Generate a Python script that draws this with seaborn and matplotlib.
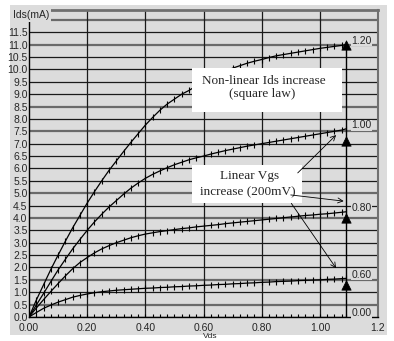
import numpy as np
import pandas as pd
import matplotlib
matplotlib.use("Agg")
import matplotlib.pyplot as plt
from matplotlib.patches import Rectangle
import seaborn as sns

# ---------------- data ----------------
vds = [0.000, 0.025, 0.050, 0.075, 0.100, 0.125, 0.150, 0.175, 0.200, 0.225,
       0.250, 0.275, 0.300, 0.325, 0.350, 0.375, 0.400, 0.425, 0.450, 0.475,
       0.500, 0.525, 0.550, 0.575, 0.600, 0.625, 0.650, 0.675, 0.700, 0.725,
       0.750, 0.775, 0.800, 0.825, 0.850, 0.875, 0.900, 0.925, 0.950, 0.975,
       1.000, 1.025, 1.050, 1.075, 1.090]

ids_vgs_120 = [0.00, 0.68, 1.30, 1.92, 2.50, 3.06, 3.60, 4.10, 4.60, 5.06,
               5.50, 5.92, 6.30, 6.68, 7.05, 7.40, 7.75, 8.06, 8.35, 8.60,
               8.80, 9.00, 9.15, 9.33, 9.50, 9.66, 9.80, 9.93, 10.05, 10.15,
               10.25, 10.33, 10.40, 10.48, 10.55, 10.60, 10.65, 10.70, 10.75, 10.80,
               10.85, 10.89, 10.93, 10.97, 11.00]
ids_vgs_100 = [0.00, 0.48, 0.95, 1.43, 1.90, 2.33, 2.75, 3.13, 3.50, 3.84,
               4.15, 4.44, 4.70, 4.96, 5.20, 5.41, 5.60, 5.76, 5.90, 6.03,
               6.15, 6.25, 6.35, 6.43, 6.50, 6.58, 6.65, 6.72, 6.78, 6.84,
               6.90, 6.95, 7.00, 7.05, 7.10, 7.15, 7.20, 7.25, 7.30, 7.35,
               7.40, 7.45, 7.50, 7.55, 7.60]
ids_vgs_080 = [0.00, 0.36, 0.70, 1.03, 1.35, 1.66, 1.95, 2.20, 2.40, 2.59,
               2.75, 2.88, 3.00, 3.10, 3.20, 3.28, 3.35, 3.40, 3.45, 3.49,
               3.53, 3.57, 3.60, 3.64, 3.67, 3.70, 3.73, 3.77, 3.80, 3.83,
               3.86, 3.89, 3.92, 3.95, 3.98, 4.01, 4.04, 4.07, 4.10, 4.12,
               4.15, 4.17, 4.20, 4.23, 4.25]
ids_vgs_060 = [0.00, 0.18, 0.35, 0.48, 0.60, 0.70, 0.80, 0.87, 0.93, 0.98,
               1.02, 1.05, 1.08, 1.10, 1.12, 1.14, 1.16, 1.17, 1.19, 1.20,
               1.22, 1.23, 1.25, 1.26, 1.28, 1.29, 1.31, 1.32, 1.34, 1.35,
               1.37, 1.38, 1.40, 1.41, 1.43, 1.44, 1.45, 1.47, 1.48, 1.49,
               1.50, 1.52, 1.53, 1.55, 1.56]
ids_vgs_000 = [0.00, 0.00, 0.00, 0.00, 0.00, 0.00, 0.00, 0.00, 0.00, 0.00,
               0.00, 0.00, 0.00, 0.00, 0.00, 0.00, 0.00, 0.00, 0.00, 0.00,
               0.00, 0.00, 0.00, 0.00, 0.00, 0.00, 0.00, 0.00, 0.00, 0.00,
               0.00, 0.00, 0.00, 0.00, 0.00, 0.00, 0.00, 0.00, 0.00, 0.00,
               0.00, 0.00, 0.00, 0.00, 0.00]

vgs_labels = ["0.00", "0.60", "0.80", "1.00", "1.20"]
series = [ids_vgs_000, ids_vgs_060, ids_vgs_080, ids_vgs_100, ids_vgs_120]

triangle_ids = [11.0, 7.1, 4.0, 1.3]

x_ticks = [0.0, 0.2, 0.4, 0.6, 0.8, 1.0, 1.2]
x_tick_labels = ["0.00", "0.20", "0.40", "0.60", "0.80", "1.00", "1.2"]
y_ticks = [0.0, 0.5, 1.0, 1.5, 2.0, 2.5, 3.0, 3.5, 4.0, 4.5, 5.0, 5.5, 6.0,
           6.5, 7.0, 7.5, 8.0, 8.5, 9.0, 9.5, 10.0, 10.5, 11.0, 11.5, 12.0]
# the 12.0 label is hidden behind the "Ids(mA)" title in the reference
y_tick_labels = ["%.1f" % v for v in y_ticks[:-1]] + [""]
thick_rows = [0.5, 1.5, 4.0, 5.0, 7.5, 8.5, 11.0, 12.0]

# ---------------- style ----------------
BG = "#dcdcdc"
sns.set_theme(style="white")
plt.rcParams["font.family"] = ["Liberation Sans", "DejaVu Sans"]

W, H = 394, 341
fig = plt.figure(figsize=(W / 100, H / 100), dpi=100, facecolor="white")
fig.patches.append(Rectangle((10 / W, 6 / H), 377 / W, 330 / H,
                             transform=fig.transFigure, facecolor=BG,
                             edgecolor="none", zorder=-10))
ax = fig.add_axes([29 / W, 24 / H, 349 / W, 307 / H])
ax.set_facecolor(BG)
ax.set_xlim(0, 1.2)
ax.set_ylim(0, 12.4)

# grid
for yv in y_ticks[1:]:
    if yv in thick_rows:
        ax.axhline(yv, color="#6a6a6a", lw=1.6, zorder=1)
    else:
        ax.axhline(yv, color="#1a1a1a", lw=0.9, zorder=1)
for xv in x_ticks[1:-1]:
    ax.axvline(xv, color="#1a1a1a", lw=0.9, zorder=1)

df = pd.concat([pd.DataFrame({"Vds": vds, "Ids": ys, "Vgs": lab})
                for lab, ys in zip(vgs_labels, series)], ignore_index=True)

sns.lineplot(data=df, x="Vds", y="Ids", hue="Vgs",
             palette={l: "black" for l in vgs_labels},
             estimator=None, sort=False, legend=False, ax=ax,
             lw=0.9, marker="|", markersize=4.5, markeredgewidth=0.8,
             markeredgecolor="black", zorder=3)

# vertical marker line and triangles
x_end = vds[-1]
ax.plot([x_end, x_end], [0, ids_vgs_120[-1]], color="black", lw=1.0, zorder=4)
sns.scatterplot(x=[x_end] * len(triangle_ids), y=triangle_ids, marker="^",
                color="black", edgecolor="black", s=45, ax=ax, zorder=5,
                legend=False)

# curve end labels
for lab, ys in zip(vgs_labels, series):
    ax.text(x_end + 0.018, ys[-1] + 0.15, lab, fontsize=7.5, ha="left",
            va="center", zorder=6,
            bbox=dict(facecolor=BG, edgecolor="none", pad=0.3))

# annotation boxes
serif = ["Liberation Serif", "DejaVu Serif"]
ax.add_patch(Rectangle((0.56, 8.28), 0.515, 1.78, facecolor="white",
                       edgecolor="none", zorder=6))
ax.text(0.808, 9.55, "Non-linear Ids increase", fontsize=9.5, family=serif,
        ha="center", va="center", zorder=7)
ax.text(0.803, 9.0, "(square law)", fontsize=9.5, family=serif,
        ha="center", va="center", zorder=7)

ax.add_patch(Rectangle((0.56, 4.6), 0.38, 1.55, facecolor="white",
                       edgecolor="none", zorder=6))
ax.text(0.757, 5.7, "Linear Vgs", fontsize=9.5, family=serif,
        ha="center", va="center", zorder=7)
ax.text(0.752, 5.04, "increase (200mV)", fontsize=9.5, family=serif,
        ha="center", va="center", zorder=7)

arrow_kw = dict(arrowstyle="->", color="black", lw=0.6,
                mutation_scale=9, shrinkA=0, shrinkB=0)
ax.annotate("", xy=(1.056, 7.35), xytext=(0.924, 5.82),
            arrowprops=arrow_kw, zorder=8)
ax.annotate("", xy=(1.082, 4.68), xytext=(0.90, 4.93),
            arrowprops=arrow_kw, zorder=8)
ax.annotate("", xy=(1.056, 1.97), xytext=(0.902, 4.59),
            arrowprops=arrow_kw, zorder=8)

# axes, ticks
ax.set_xticks(x_ticks)
ax.set_xticklabels(x_tick_labels, fontsize=7.5)
ax.set_yticks(y_ticks)
ax.set_yticklabels(y_tick_labels, fontsize=7.5)
ax.tick_params(axis="x", length=0, pad=4)
ax.tick_params(axis="y", length=0, pad=1)
ax.set_xlabel("")
ax.set_ylabel("")
for s in ["left", "bottom"]:
    ax.spines[s].set_color("black")
    ax.spines[s].set_linewidth(1.0)
ax.spines["right"].set_color("#707070")
ax.spines["right"].set_linewidth(1.5)
ax.spines["top"].set_color("#707070")
ax.spines["top"].set_linewidth(2.0)

fig.text(13 / W, 1 - 15 / H, "Ids(mA)", fontsize=7.5, ha="left", va="center",
         bbox=dict(facecolor=BG, edgecolor="none", pad=1.5), zorder=10)
# x-axis title, small, just under the tick labels near the bottom edge
fig.text(210 / W, 1 - 333 / H, "Vds", fontsize=6, ha="center", va="top")

fig.savefig("out.png", dpi=100, facecolor="white")
